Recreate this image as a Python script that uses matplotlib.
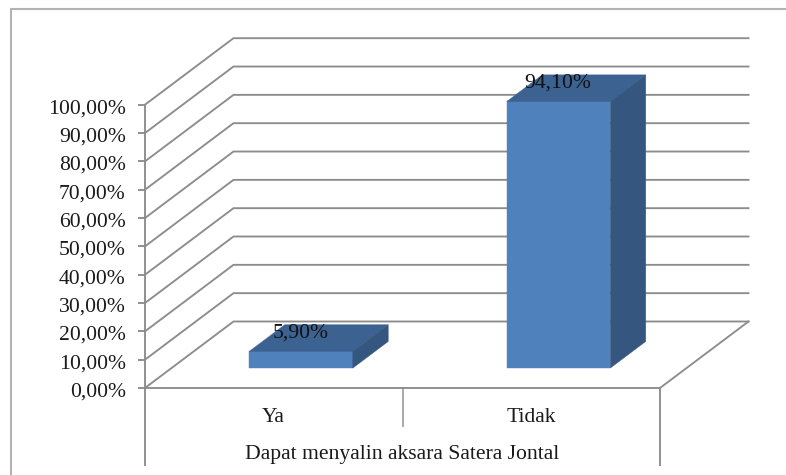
import matplotlib
matplotlib.use("Agg")
import matplotlib.pyplot as plt
from matplotlib.patches import Polygon
from matplotlib.transforms import ScaledTranslation

categories = ["Ya", "Tidak"]
values = [5.90, 94.10]
value_labels = ["5,90%", "94,10%"]
y_ticks = [0, 10, 20, 30, 40, 50, 60, 70, 80, 90, 100]
y_tick_labels = ["0,00%", "10,00%", "20,00%", "30,00%", "40,00%", "50,00%",
                 "60,00%", "70,00%", "80,00%", "90,00%", "100,00%"]
axis_title = "Dapat menyalin aksara Satera Jontal"

W, H = 786, 475
plt.rcParams["font.family"] = ["Liberation Serif", "DejaVu Serif"]
FS = 15.6
GRID = "#8c8c8c"
LW = 1.35
FRONT, TOP, SIDE = "#4f81bd", "#3c6291", "#34567f"

fig = plt.figure(figsize=(W / 100, H / 100), dpi=100)
fig.patch.set_facecolor("white")
# chart frame
frame = fig.add_axes([0, 0, 1, 1], zorder=0)
frame.set_xlim(0, W); frame.set_ylim(H, 0); frame.axis("off")
frame.plot([10.7, 10.7, W], [H, 9, 9], color="#b3b3b3", lw=1.5, solid_joinstyle="miter")

x0, x1, y0, y100 = 145, 660, 388, 104.7
ax = fig.add_axes([x0 / W, 1 - y0 / H, (x1 - x0) / W, (y0 - y100) / H], zorder=1)
ax.set_xlim(0, 2)
ax.set_ylim(0, 100)
ax.patch.set_alpha(0)
for s in ("top", "right"):
    ax.spines[s].set_visible(False)
for s in ("left", "bottom"):
    ax.spines[s].set_color(GRID)
    ax.spines[s].set_linewidth(LW)

# oblique projection: depth 0 = front plane, depth 1 = back wall
DX = 88.5 / 257.5
DY = 66.5 / 2.833


def proj(x, y, d):
    return (x + DX * d, y + DY * d)


# walls and floor
for t in y_ticks:
    pts = [proj(0, t, 0), proj(0, t, 1), proj(2, t, 1)]
    ax.plot(*zip(*pts), color=GRID, lw=LW, clip_on=False, zorder=1, solid_joinstyle="miter")
ax.plot(*zip(proj(2, 0, 0), proj(2, 0, 1)), color=GRID, lw=LW, clip_on=False, zorder=1)

# bars
BAR_W, D0, D1 = 0.402, 0.30, 0.70
for i, v in enumerate(values):
    c0 = i + 0.5 + 0.003
    a, b = c0 - BAR_W / 2, c0 + BAR_W / 2
    front = [proj(a, 0, D0), proj(b, 0, D0), proj(b, v, D0), proj(a, v, D0)]
    top = [proj(a, v, D0), proj(b, v, D0), proj(b, v, D1), proj(a, v, D1)]
    side = [proj(b, 0, D0), proj(b, 0, D1), proj(b, v, D1), proj(b, v, D0)]
    for pts, c in ((front, FRONT), (top, TOP), (side, SIDE)):
        ax.add_patch(Polygon(pts, closed=True, facecolor=c, edgecolor=c, lw=0.3,
                             clip_on=False, zorder=3))
    ly = proj(i + 0.5, v, D0 + 0.27)[1]
    lx = proj(i + 0.5, v, D0)[0]
    ax.text(lx, ly, value_labels[i], ha="center", va="center", fontsize=FS,
            color="#111111", clip_on=False, zorder=5)

ax.set_yticks(y_ticks, y_tick_labels, fontsize=FS, color="#1a1a1a")
ax.tick_params(axis="y", length=4.7, width=LW, color=GRID, pad=9.2)
shift = ScaledTranslation(0, -1.5 / 100, fig.dpi_scale_trans)
for lab in ax.get_yticklabels():
    lab.set_transform(lab.get_transform() + shift)
ax.set_xticks([0.5, 1.5], categories, fontsize=FS, color="#1a1a1a")
ax.tick_params(axis="x", length=0, pad=14.6)
ax.set_xlabel(axis_title, fontsize=FS, color="#1a1a1a", labelpad=12.5)

# axis lines below the floor, in value units
ax.plot([0, 0], [0, -27.2], color=GRID, lw=LW, clip_on=False)
ax.plot([1, 1], [0, -13.5], color="#a5a5a5", lw=LW, clip_on=False)
ax.plot([2, 2], [0, -27.2], color=GRID, lw=LW, clip_on=False)
ax.set_xlim(0, 2)
ax.set_ylim(0, 100)

fig.savefig("out.png", dpi=100)
